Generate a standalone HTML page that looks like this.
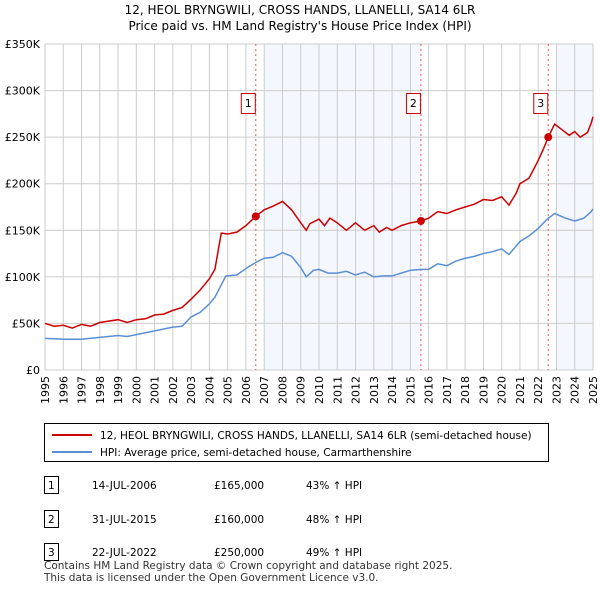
<!DOCTYPE html>
<html><head><meta charset="utf-8"><style>
body{margin:0;background:#fff;font-family:"Liberation Sans","DejaVu Sans",sans-serif;}
#wrap{position:relative;width:600px;height:590px;overflow:hidden}
svg text{font-family:"DejaVu Sans","Liberation Sans",sans-serif}
</style></head><body>
<div id="wrap">
<svg id="chart" width="600" height="420" style="position:absolute;left:0;top:0">
<text x="300" y="14" text-anchor="middle" font-size="12">12, HEOL BRYNGWILI, CROSS HANDS, LLANELLI, SA14 6LR</text>
<text x="300" y="30" text-anchor="middle" font-size="12">Price paid vs. HM Land Registry's House Price Index (HPI)</text>
<g id="g"></g>
</svg>
<svg width="600" height="170" style="position:absolute;left:0;top:420">
<rect x="44.5" y="3.5" width="504" height="38" fill="#fff" stroke="#000"/>
<line x1="52" y1="15" x2="92" y2="15" stroke="#cc0000" stroke-width="2"/>
<text x="100" y="19" font-size="10.5">12, HEOL BRYNGWILI, CROSS HANDS, LLANELLI, SA14 6LR (semi-detached house)</text>
<line x1="52" y1="32" x2="92" y2="32" stroke="#5b8fd4" stroke-width="2"/>
<text x="100" y="36" font-size="10.5">HPI: Average price, semi-detached house, Carmarthenshire</text>
<g font-size="10.5">
<rect x="44.5" y="56.5" width="14" height="17" fill="#fff" stroke="#000"/><text x="48" y="69">1</text>
<text x="92" y="69">14-JUL-2006</text><text x="214" y="69">£165,000</text><text x="306" y="69">43% ↑ HPI</text>
<rect x="44.5" y="90.5" width="14" height="17" fill="#fff" stroke="#000"/><text x="48" y="103">2</text>
<text x="92" y="103">31-JUL-2015</text><text x="214" y="103">£160,000</text><text x="306" y="103">48% ↑ HPI</text>
<rect x="44.5" y="123.5" width="14" height="17" fill="#fff" stroke="#000"/><text x="48" y="136">3</text>
<text x="92" y="136">22-JUL-2022</text><text x="214" y="136">£250,000</text><text x="306" y="136">49% ↑ HPI</text>
</g>
<text x="44" y="149" font-size="10.5" fill="#333">Contains HM Land Registry data © Crown copyright and database right 2025.</text>
<text x="44" y="161" font-size="10.5" fill="#333">This data is licensed under the Open Government Licence v3.0.</text>
</svg>
</div>
<script>
const years=[];for(let y=1995;y<=2025;y++)years.push(y);
const yTicks=[0,50,100,150,200,250,300,350];
const yTickLabels=["£0","£50K","£100K","£150K","£200K","£250K","£300K","£350K"];
const redT=[1995,1995.5,1996,1996.5,1997,1997.5,1998,1999,1999.5,2000,2000.5,2001,2001.5,2002,2002.5,2003,2003.5,2004,2004.3,2004.65,2005,2005.5,2006,2006.54,2007,2007.5,2008,2008.5,2009,2009.3,2009.5,2010,2010.3,2010.6,2011,2011.5,2012,2012.5,2013,2013.3,2013.7,2014,2014.5,2015,2015.58,2016,2016.5,2017,2017.5,2018,2018.5,2019,2019.5,2020,2020.4,2020.8,2021,2021.5,2022,2022.3,2022.55,2022.9,2023.3,2023.7,2024,2024.3,2024.7,2024.9,2025];
const redV=[50,47,48,45,49,47,51,54,51,54,55,59,60,64,67,76,86,98,108,147,146,148,155,165,172,176,181,172,158,150,157,162,155,163,158,150,158,150,155,148,153,150,155,158,160,163,170,168,172,175,178,183,182,186,177,190,200,206,225,238,250,264,258,252,256,250,255,265,272];
const blueT=[1995,1996,1997,1998,1999,1999.5,2000,2001,2002,2002.5,2003,2003.5,2004,2004.3,2004.9,2005.5,2006,2006.5,2007,2007.5,2008,2008.5,2009,2009.3,2009.7,2010,2010.5,2011,2011.5,2012,2012.5,2013,2013.5,2014,2014.5,2015,2015.58,2016,2016.5,2017,2017.5,2018,2018.5,2019,2019.5,2020,2020.4,2021,2021.5,2022,2022.5,2022.9,2023.5,2024,2024.5,2024.9,2025];
const blueV=[34,33,33,35,37,36,38,42,46,47,57,62,71,78,101,102,109,115,120,121,126,122,110,100,107,108,104,104,106,102,105,100,101,101,104,107,108,108,114,112,117,120,122,125,127,130,124,138,144,152,162,168,163,160,163,170,173];
const sales=[[2006.54,165,"1"],[2015.58,160,"2"],[2022.55,250,"3"]];
const shades=[[2007,2015.58],[2023,2025]];
const X0=45,X1=593,Y0=370,Y1=44;
const xs=t=>X0+(t-1995)*(X1-X0)/30, ys=v=>Y0-(v)*(Y0-Y1)/350;
const NS="http://www.w3.org/2000/svg",g=document.getElementById('g');
function mk(tag,at){const e=document.createElementNS(NS,tag);for(const k in at)e.setAttribute(k,at[k]);g.appendChild(e);return e;}
shades.forEach(s=>{const e=mk('rect',{x:xs(s[0]),y:Y1,width:xs(s[1])-xs(s[0]),height:Y0-Y1,fill:'#f4f7fe'});

});
years.forEach(y=>{const e=mk('line',{x1:xs(y),x2:xs(y),y1:Y1,y2:Y0,stroke:'#cccccc'});


const px=xs(y)+4,py=Y0+6;
const t=mk('text',{x:px,y:py,transform:`rotate(-90 ${px} ${py})`,'text-anchor':'end','font-size':11});t.textContent=y;

});
yTicks.forEach((v,i)=>{const e=mk('line',{x1:X0,x2:X1,y1:ys(v),y2:ys(v),stroke:'#cccccc'});


const t=mk('text',{x:40,y:ys(v)+4,'text-anchor':'end','font-size':11});t.textContent=yTickLabels[i];

});
sales.forEach(s=>{const l=mk('line',{x1:xs(s[0]),x2:xs(s[0]),y1:Y1,y2:Y0,stroke:'#ee5555','stroke-dasharray':'2,3'});


const b=mk('rect',{x:xs(s[0])-14.5,y:93.5,width:14,height:20,fill:'#fff',stroke:'#cc0000'});


const t=mk('text',{x:xs(s[0])-7.5,y:107,'text-anchor':'middle','font-size':11});t.textContent=s[2];

});
const bp=mk('polyline',{points:blueT.map((t,i)=>xs(t)+','+ys(blueV[i])).join(' '),fill:'none',stroke:'#5b8fd4','stroke-width':1.5});


const rp=mk('polyline',{points:redT.map((t,i)=>xs(t)+','+ys(redV[i])).join(' '),fill:'none',stroke:'#cc0000','stroke-width':1.5});


sales.forEach(s=>{const c=mk('circle',{cx:xs(s[0]),cy:ys(s[1]),r:4,fill:'#cc0000'});

});
</script>
</body></html>
